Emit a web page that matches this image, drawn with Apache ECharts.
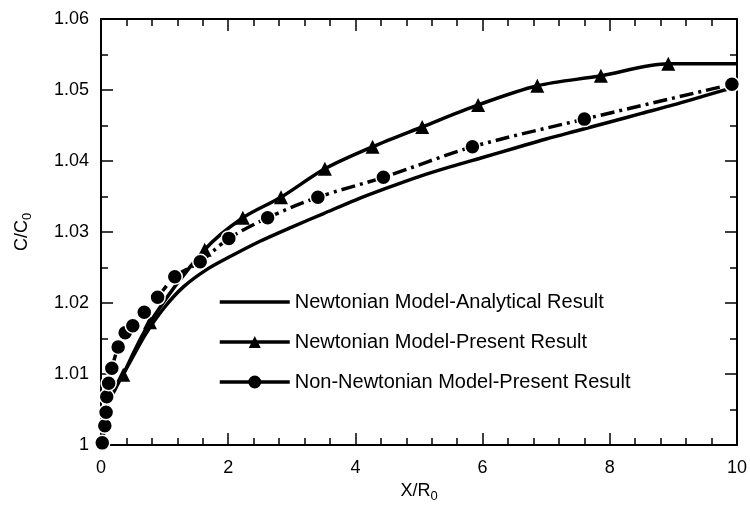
<!DOCTYPE html>
<html>
<head>
<meta charset="utf-8">
<script src="https://cdn.jsdelivr.net/npm/echarts@6/dist/echarts.min.js"></script>
<style>
  html, body { margin: 0; padding: 0; background: #fff; }
  #chart { width: 750px; height: 513px; }
</style>
</head>
<body>
<div id="chart"></div>
<script>
// Series names (legend order)
const seriesNames = [
  'Newtonian Model-Analytical Result',
  'Newtonian Model-Present Result',
  'Non-Newtonian Model-Present Result'
];

// Newtonian model, analytical solution: X/R0 and C/C0
const analyticX = [0, 0.02, 0.05, 0.1, 0.22, 0.35, 0.5, 0.7, 1.0, 1.3, 1.66, 2.0, 2.5, 3.0, 3.5, 4.0, 4.5, 5.0, 5.5, 6.0, 6.5, 7.0, 7.5, 8.0, 8.5, 9.0, 9.5, 10];
const analyticY = [1.0, 1.0025, 1.0043, 1.0058, 1.0078, 1.0100, 1.0124, 1.0156, 1.0194, 1.0223, 1.0247, 1.0264, 1.0287, 1.0307, 1.0326, 1.0345, 1.0362, 1.0378, 1.0392, 1.0405, 1.0418, 1.0431, 1.0443, 1.0455, 1.0467, 1.0479, 1.0492, 1.0505];

// Newtonian model, present result (triangles); last value is the line end without a marker
const newtonX = [0.35, 0.77, 1.63, 2.23, 2.83, 3.52, 4.27, 5.05, 5.93, 6.86, 7.86, 8.92, 10];
const newtonY = [1.0099, 1.0173, 1.0275, 1.0320, 1.0349, 1.0389, 1.0420, 1.0448, 1.0479, 1.0506, 1.0520, 1.0537, 1.0537];

// Non-Newtonian model, present result (circles)
const nonNewtonX = [0.02, 0.06, 0.08, 0.09, 0.12, 0.17, 0.27, 0.38, 0.5, 0.68, 0.89, 1.16, 1.56, 2.01, 2.62, 3.41, 4.44, 5.84, 7.6, 9.92];
const nonNewtonY = [1.0003, 1.0027, 1.0046, 1.0068, 1.0087, 1.0108, 1.0138, 1.0158, 1.0168, 1.0187, 1.0208, 1.0237, 1.0258, 1.0291, 1.0320, 1.0349, 1.0377, 1.0420, 1.0459, 1.0508];

// Axis tick labels
const xTickLabels = ['0', '2', '4', '6', '8', '10'];
const yTickLabels = ['1', '1.01', '1.02', '1.03', '1.04', '1.05', '1.06'];

const FONT = 'Liberation Sans, Arial, sans-serif';

// Legend key for the circle series: solid line broken by a filled dot
const circleKeyIcon = 'path://M0,5.25 L29,5.25 L29,8.75 L0,8.75 Z M41,5.25 L70,5.25 L70,8.75 L41,8.75 Z ' +
  'M28.5,7 A6.5,6.5 0 1,1 41.5,7 A6.5,6.5 0 1,1 28.5,7 Z';

function pairs(xs, ys) { return xs.map((x, i) => [x, ys[i]]); }

const newtonData = pairs(newtonX, newtonY).map((p, i, arr) =>
  i === arr.length - 1 ? { value: p, symbol: 'none' } : { value: p });

const chart = echarts.init(document.getElementById('chart'), null, { renderer: 'canvas' });

const axisLineStyle = { color: '#000', width: 2 };
const commonX = {
  type: 'value', min: 0, max: 10, interval: 2,
  axisLine: { show: true, onZero: false, lineStyle: axisLineStyle },
  axisTick: { show: true, inside: true, length: 12, lineStyle: { color: '#000', width: 1.5 } },
  minorTick: { show: true, splitNumber: 5, length: 7, lineStyle: { color: '#000', width: 1.5 } },
  splitLine: { show: false }
};
const commonY = {
  type: 'value', min: 1.0, max: 1.06, interval: 0.01,
  axisLine: { show: true, onZero: false, lineStyle: axisLineStyle },
  axisTick: { show: true, inside: true, length: 12, lineStyle: { color: '#000', width: 1.5 } },
  minorTick: { show: true, splitNumber: 2, length: 7, lineStyle: { color: '#000', width: 1.5 } },
  splitLine: { show: false }
};

const nameRich = {
  n: { fontFamily: FONT, fontSize: 18, color: '#000' },
  s: { fontFamily: FONT, fontSize: 13, color: '#000', padding: [10, 0, 0, 0] }
};

chart.setOption({
  backgroundColor: '#fff',
  animation: false,
  textStyle: { fontFamily: FONT, color: '#000' },
  grid: { left: 101, right: 12, top: 19, bottom: 68, containLabel: false },
  legend: {
    orient: 'vertical',
    left: 213, top: 287,
    itemWidth: 70, itemHeight: 15,
    itemGap: 20,
    lineStyle: { width: 3.5 },
    textStyle: { fontFamily: FONT, fontSize: 20, color: '#000' },
    data: [
      { name: seriesNames[0], itemStyle: { opacity: 0 } },
      { name: seriesNames[1] },
      { name: seriesNames[2], icon: circleKeyIcon, itemStyle: { color: '#000', borderWidth: 0 } }
    ]
  },
  xAxis: [
    Object.assign({}, commonX, {
      position: 'bottom',
      name: '{n|X/R}{s|0}',
      nameLocation: 'middle', nameGap: 35,
      nameTextStyle: { rich: nameRich },
      axisLabel: {
        show: true, margin: 14, fontFamily: FONT, fontSize: 18, color: '#000',
        formatter: v => xTickLabels[Math.round(v / 2)] ?? ''
      }
    }),
    Object.assign({}, commonX, { position: 'top', axisLabel: { show: false } })
  ],
  yAxis: [
    Object.assign({}, commonY, {
      position: 'left',
      name: '{n|C/C}{s|0}',
      nameLocation: 'middle', nameGap: 67,
      nameTextStyle: { rich: nameRich },
      axisLabel: {
        show: true, margin: 12, fontFamily: FONT, fontSize: 18, color: '#000',
        formatter: v => yTickLabels[Math.round((v - 1) * 100)] ?? ''
      }
    }),
    Object.assign({}, commonY, { position: 'right', axisLabel: { show: false } })
  ],
  series: [
    {
      name: seriesNames[0], type: 'line',
      data: pairs(analyticX, analyticY),
      showSymbol: false, symbol: 'none', smooth: 0.3,
      lineStyle: { color: '#000', width: 3.5 },
      itemStyle: { color: '#000' },
      z: 2
    },
    {
      name: seriesNames[1], type: 'line',
      data: newtonData,
      symbol: 'triangle', symbolSize: 14, smooth: 0.3,
      lineStyle: { color: '#000', width: 3.5 },
      itemStyle: { color: '#000' },
      z: 3
    },
    {
      name: seriesNames[2], type: 'line',
      data: pairs(nonNewtonX, nonNewtonY),
      symbol: 'circle', symbolSize: 15, smooth: 0.3,
      lineStyle: { color: '#000', width: 3.5, type: [14, 5, 3, 5] },
      itemStyle: { color: '#000', borderColor: '#fff', borderWidth: 1.5 },
      z: 4
    }
  ]
});
</script>
</body>
</html>
